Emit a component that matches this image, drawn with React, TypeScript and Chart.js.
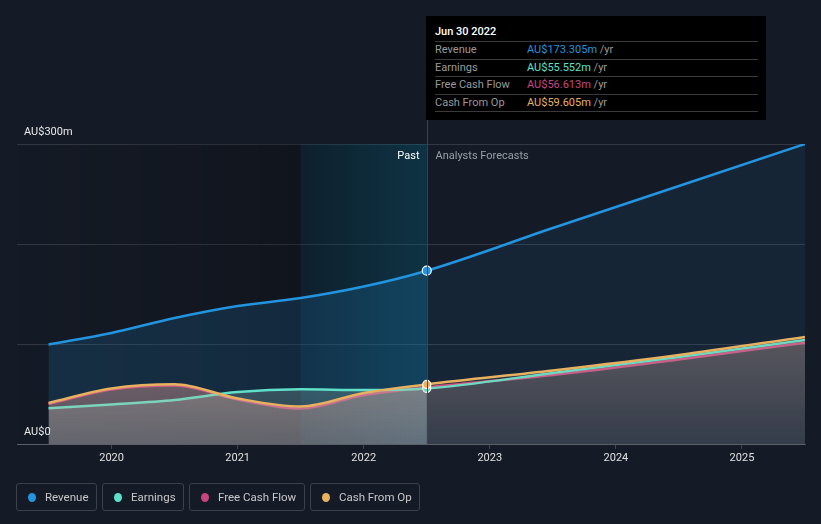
import React, { useEffect, useRef } from 'react';
import { Chart, registerables } from 'chart.js';

Chart.register(...registerables);

// ---- data (AU$ millions, x = fractional year) ----
const pastYears = [2019.5, 2020.0, 2020.5, 2021.0, 2021.5, 2022.0, 2022.5];
const forecastYears = [2023.5, 2024.5, 2025.5];
const revenuePast = [99.5, 111, 126, 138, 146, 157.5, 173.305];
const revenueForecast = [216, 258, 300];
const earningsPast = [35.7, 39.5, 44, 52, 54.7, 54, 55.552];
const earningsForecast = [71, 87, 104];
const fcfPast = [40, 54.5, 58.5, 44.5, 35.5, 49, 56.613];
const fcfForecast = [69, 84.5, 101.3];
const cfoPast = [41, 55.5, 59.7, 45.5, 37.5, 51, 59.605];
const cfoForecast = [73.5, 89, 107];
const xTickYears = [2020, 2021, 2022, 2023, 2024, 2025];
const yLabelValues = [0, 300];
const yLabelTexts = ['AU$0', 'AU$300m'];
const markerYear = 2022.5;
const bandStartYear = 2021.5;

const seriesNames = ['Revenue', 'Earnings', 'Free Cash Flow', 'Cash From Op'];
const seriesColors = ['#2394df', '#5fe0c8', '#c9457f', '#e8b160'];
const tooltipTitle = 'Jun 30 2022';
const tooltipValues = ['AU$173.305m', 'AU$55.552m', 'AU$56.613m', 'AU$59.605m'];

const FONT = "Roboto, 'Noto Sans', sans-serif";
const BG = 'rgb(21,27,38)';

function pts(xs: number[], ys: number[]) {
  return xs.map((x, i) => ({ x, y: ys[i] }));
}

function rgba(hex: string, a: number) {
  const n = parseInt(hex.slice(1), 16);
  return `rgba(${(n >> 16) & 255},${(n >> 8) & 255},${n & 255},${a})`;
}

const bandPlugin = {
  id: 'bands',
  beforeDatasetsDraw(chart: any) {
    const { ctx, chartArea: ca, scales } = chart;
    const xs = scales.x;
    const bx = xs.getPixelForValue(bandStartYear);
    const mx = xs.getPixelForValue(markerYear);
    ctx.save();
    let g = ctx.createLinearGradient(ca.left, 0, bx, 0);
    g.addColorStop(0, 'rgba(0,0,0,0)');
    g.addColorStop(1, 'rgba(0,0,0,0.22)');
    ctx.fillStyle = g;
    ctx.fillRect(ca.left, ca.top, bx - ca.left, ca.bottom - ca.top);
    g = ctx.createLinearGradient(bx, 0, mx, 0);
    g.addColorStop(0, 'rgba(0,45,60,0.3)');
    g.addColorStop(1, 'rgba(0,110,140,0.3)');
    ctx.fillStyle = g;
    ctx.fillRect(bx, ca.top, mx - bx, ca.bottom - ca.top);
    ctx.restore();
  },
  afterDatasetsDraw(chart: any) {
    const { ctx, chartArea: ca, scales } = chart;
    const xs = scales.x;
    const ys = scales.y;
    const mx = Math.round(xs.getPixelForValue(markerYear)) + 0.5;
    ctx.save();
    ctx.strokeStyle = 'rgba(25,85,105,0.9)';
    ctx.lineWidth = 1;
    ctx.beginPath();
    ctx.moveTo(mx, 120);
    ctx.lineTo(mx, ca.bottom);
    ctx.stroke();
    ctx.font = `11px ${FONT}`;
    ctx.textBaseline = 'middle';
    ctx.textAlign = 'right';
    ctx.fillStyle = '#ffffff';
    ctx.fillText('Past', mx - 8, ca.top + 12);
    ctx.textAlign = 'left';
    ctx.fillStyle = '#9a9ea6';
    ctx.fillText('Analysts Forecasts', mx + 8, ca.top + 12);
    ctx.fillStyle = '#e8e8e8';
    yLabelValues.forEach((v, i) => {
      ctx.fillText(yLabelTexts[i], ca.left + 7, ys.getPixelForValue(v) - 12);
    });
    ctx.restore();
  },
};

export default function App() {
  const ref = useRef<HTMLCanvasElement | null>(null);

  useEffect(() => {
    if (!ref.current) return;
    const revFill = (c: any) => {
      const { chart } = c;
      const ca = chart.chartArea;
      if (!ca) return 'transparent';
      const mx = chart.scales.x.getPixelForValue(markerYear);
      const f = Math.min(1, Math.max(0, (mx - ca.left) / (ca.right - ca.left)));
      const g = chart.ctx.createLinearGradient(ca.left, 0, ca.right, 0);
      g.addColorStop(0, 'rgba(35,148,223,0.17)');
      g.addColorStop(f, 'rgba(35,148,223,0.17)');
      g.addColorStop(f, 'rgba(35,148,223,0.09)');
      g.addColorStop(1, 'rgba(35,148,223,0.09)');
      return g;
    };
    const patternCache: Record<string, any> = {};
    const lowFill = (tint: string) => (c: any) => {
      const { chart } = c;
      const ca = chart.chartArea;
      if (!ca) return 'transparent';
      const key = tint + ca.left + ca.right + ca.top + ca.bottom;
      if (patternCache[key]) return patternCache[key];
      const ys = chart.scales.y;
      const mx = chart.scales.x.getPixelForValue(markerYear);
      const off = document.createElement('canvas');
      off.width = chart.width;
      off.height = chart.height;
      const o = off.getContext('2d')!;
      const top = ys.getPixelForValue(110);
      let g = o.createLinearGradient(0, top, 0, ca.bottom);
      g.addColorStop(0, rgba(tint, 0.3));
      g.addColorStop(1, rgba(tint, 0.17));
      o.fillStyle = g;
      o.fillRect(0, 0, mx, off.height);
      g = o.createLinearGradient(0, top, 0, ca.bottom);
      g.addColorStop(0, rgba(tint, 0.14));
      g.addColorStop(1, rgba(tint, 0.06));
      o.fillStyle = g;
      o.fillRect(mx, 0, off.width - mx, off.height);
      const p = chart.ctx.createPattern(off, 'no-repeat');
      patternCache[key] = p;
      return p;
    };
    const radius = (r: number) => (c: any) => (c.raw && c.raw.x === markerYear ? r : 0);

    const common = {
      borderWidth: 2.5,
      cubicInterpolationMode: 'monotone' as const,
      pointBorderColor: '#ffffff',
      pointBorderWidth: 1.2,
      pointHoverRadius: 0,
      fill: 'origin',
    };

    const chart = new Chart(ref.current, {
      type: 'line',
      data: {
        datasets: [
          {
            ...common,
            label: seriesNames[3],
            data: pts([...pastYears, ...forecastYears], [...cfoPast, ...cfoForecast]),
            borderColor: seriesColors[3],
            pointBackgroundColor: seriesColors[3],
            backgroundColor: lowFill('#e0a890'),
            pointRadius: radius(4),
            order: 1,
          },
          {
            ...common,
            label: seriesNames[1],
            data: pts([...pastYears, ...forecastYears], [...earningsPast, ...earningsForecast]),
            borderColor: seriesColors[1],
            pointBackgroundColor: seriesColors[1],
            backgroundColor: lowFill('#a8d0c4'),
            pointRadius: radius(4),
            order: 2,
          },
          {
            ...common,
            label: seriesNames[2],
            data: pts([...pastYears, ...forecastYears], [...fcfPast, ...fcfForecast]),
            borderColor: seriesColors[2],
            pointBackgroundColor: seriesColors[2],
            backgroundColor: lowFill('#d890a0'),
            pointRadius: radius(4),
            order: 3,
          },
          {
            ...common,
            label: seriesNames[0],
            data: pts([...pastYears, ...forecastYears], [...revenuePast, ...revenueForecast]),
            borderColor: seriesColors[0],
            pointBackgroundColor: seriesColors[0],
            backgroundColor: revFill,
            pointRadius: radius(4.5),
            order: 10,
          },
        ],
      },
      options: {
        animation: false,
        responsive: false,
        maintainAspectRatio: false,
        layout: { padding: { left: 17, right: 16, top: 144, bottom: 0 } },
        plugins: { legend: { display: false }, tooltip: { enabled: false } },
        scales: {
          x: {
            type: 'linear',
            min: 2019.25,
            max: 2025.5,
            afterFit: (s: any) => {
              s.height = 80;
            },
            afterBuildTicks: (s: any) => {
              s.ticks = xTickYears.map((v) => ({ value: v }));
            },
            ticks: {
              color: '#e0e0e0',
              font: { family: FONT, size: 11 },
              padding: 3,
              maxRotation: 0,
              autoSkip: false,
              callback: (v: any) => String(v),
            },
            grid: {
              display: true,
              drawOnChartArea: false,
              drawTicks: true,
              tickLength: 5,
              color: 'rgba(255,255,255,0.18)',
            },
            border: { display: true, color: 'rgba(255,255,255,0.2)' },
          },
          y: {
            min: 0,
            max: 300,
            ticks: { display: false, stepSize: 100 },
            grid: { color: 'rgba(255,255,255,0.13)', drawTicks: false },
            border: { display: false },
          },
        },
      },
      plugins: [bandPlugin],
    } as any);
    return () => chart.destroy();
  }, []);

  const legendBoxes = [
    { left: 16, width: 81 },
    { left: 102, width: 82 },
    { left: 189, width: 116 },
    { left: 310, width: 110 },
  ];

  return (
    <div
      style={{
        position: 'fixed',
        left: 0,
        top: 0,
        width: 821,
        height: 524,
        background: BG,
        fontFamily: FONT,
        overflow: 'hidden',
      }}
    >
      <canvas ref={ref} width={821} height={524} style={{ position: 'absolute', left: 0, top: 0 }} />
      <div
        style={{
          position: 'absolute',
          left: 426,
          top: 16,
          width: 340,
          height: 104,
          background: '#000',
          boxSizing: 'border-box',
          padding: '0 8px 0 9px',
        }}
      >
        <div style={{ color: '#fff', fontSize: 11, fontWeight: 500, height: 25, lineHeight: '31px' }}>
          {tooltipTitle}
        </div>
        {seriesNames.map((n, i) => (
          <div
            key={n}
            style={{
              borderTop: '1px solid #3a3a3a',
              borderBottom: i === 3 ? '1px solid #3a3a3a' : undefined,
              height: 16.5,
              lineHeight: '16px',
              fontSize: 11,
              display: 'flex',
              color: '#9a9a9a',
            }}
          >
            <span style={{ width: 92 }}>{n}</span>
            <span style={{ color: seriesColors[i] }}>{tooltipValues[i]}</span>
            <span>&nbsp;/yr</span>
          </div>
        ))}
      </div>
      {legendBoxes.map((b, i) => (
        <div
          key={i}
          style={{
            position: 'absolute',
            left: b.left,
            top: 483,
            width: b.width,
            height: 28,
            boxSizing: 'border-box',
            border: '1px solid #3b404b',
            borderRadius: 3,
            display: 'flex',
            alignItems: 'center',
            paddingLeft: 11,
            color: '#c8c8c8',
            fontSize: 11.5,
            whiteSpace: 'nowrap',
          }}
        >
          <span
            style={{
              width: 8,
              height: 9,
              borderRadius: '50%',
              background: seriesColors[i],
              marginRight: 9,
              display: 'inline-block',
            }}
          />
          {seriesNames[i]}
        </div>
      ))}
    </div>
  );
}
